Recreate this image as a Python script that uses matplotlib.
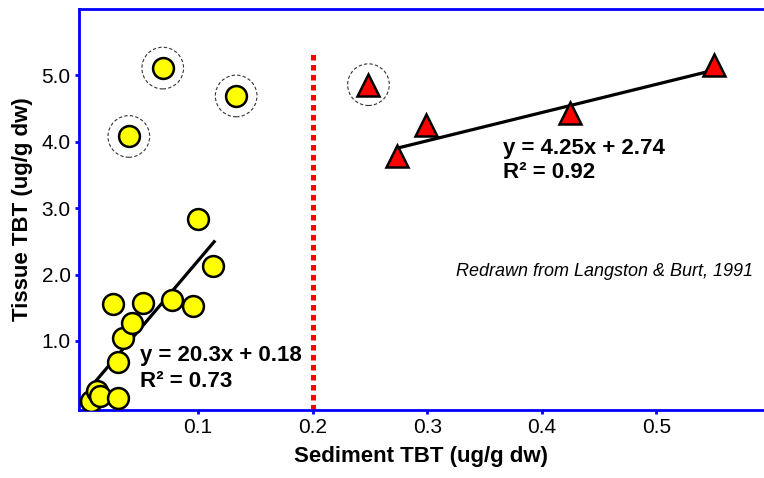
import numpy as np
import matplotlib
matplotlib.use("Agg")
import matplotlib.pyplot as plt

plt.rcParams['font.family'] = ['Liberation Sans', 'DejaVu Sans']

# Sediment vs tissue TBT, two populations
circle_x = [0.0066, 0.0118, 0.0144, 0.0298, 0.0298, 0.0348, 0.042, 0.026,
            0.052, 0.0776, 0.0959, 0.1003, 0.1134]
circle_y = [0.095, 0.25, 0.17, 0.135, 0.69, 1.04, 1.27, 1.555,
            1.57, 1.61, 1.52, 2.83, 2.13]
circle_out_x = [0.0395, 0.0691, 0.1332]
circle_out_y = [4.08, 5.11, 4.69]

tri_x = [0.2735, 0.299, 0.4243, 0.5507]
tri_y = [3.78, 4.25, 4.43, 5.15]
tri_out_x = [0.2487]
tri_out_y = [4.86]

# fitted lines: slope, intercept, x range
fit_left = (20.3, 0.18, 0.010, 0.114)
fit_right = (4.25, 2.74, 0.2735, 0.5507)
threshold = 0.2

xticks = [0.1, 0.2, 0.3, 0.4, 0.5]
yticks = [1.0, 2.0, 3.0, 4.0, 5.0]

fig = plt.figure(figsize=(7.64, 4.78), dpi=100)
ax = fig.add_axes([0.1034, 0.1423, 0.8966, 0.8389])

blue = '#0000ff'
for side in ['left', 'top', 'bottom']:
    ax.spines[side].set_color(blue)
    ax.spines[side].set_linewidth(2)
ax.spines['right'].set_visible(False)

# threshold line
ax.plot([threshold, threshold], [-0.04, 5.32], color='#ff0000', lw=3.6,
        linestyle=(0, (1.1, 0.9)), solid_capstyle='butt', zorder=1)

# regression lines
for slope, icpt, x0, x1 in [fit_left, fit_right]:
    xs = np.array([x0, x1])
    ax.plot(xs, slope * xs + icpt, color='black', lw=2.3, zorder=3)

# dashed rings around excluded points
ax.scatter(circle_out_x + tri_out_x, circle_out_y + tri_out_y, s=900,
           facecolors='none', edgecolors='#333333', linewidths=0.8,
           linestyle=(0, (3, 2)), zorder=2)

ax.plot(circle_x + circle_out_x, circle_y + circle_out_y, 'o', ms=15,
        mfc='#ffff00', mec='black', mew=1.8, zorder=4)
ax.plot(tri_x + tri_out_x, tri_y + tri_out_y, '^', ms=16,
        mfc='#ff0000', mec='black', mew=1.8, zorder=4)

ax.text(0.0493, 0.78, 'y = 20.3x + 0.18', fontsize=16, fontweight='bold',
        va='center', zorder=5)
ax.text(0.0493, 0.39, 'R\u00b2 = 0.73', fontsize=16, fontweight='bold',
        va='center', zorder=5)
ax.text(0.3664, 3.90, 'y = 4.25x + 2.74', fontsize=16, fontweight='bold',
        va='center')
ax.text(0.3664, 3.53, 'R\u00b2 = 0.92', fontsize=16, fontweight='bold',
        va='center')
ax.text(0.3253, 2.04, 'Redrawn from Langston & Burt, 1991', fontsize=13,
        fontstyle='italic', va='center')

ax.set_xlim(-0.004, 0.594)
ax.set_ylim(-0.04, 6.0)
ax.set_xticks(xticks)
ax.set_xticklabels([f'{v:.1f}' for v in xticks])
ax.set_yticks(yticks)
ax.set_yticklabels([f'{v:.1f}' for v in yticks])
ax.tick_params(axis='both', colors=blue, labelcolor='black', labelsize=15,
               length=3, width=2, direction='out', pad=3)

ax.set_xlabel('Sediment TBT (ug/g dw)', fontsize=16, fontweight='bold',
              labelpad=6)
ax.set_ylabel('Tissue TBT (ug/g dw)', fontsize=16, fontweight='bold',
              labelpad=6)

fig.savefig('out.png', dpi=100)
